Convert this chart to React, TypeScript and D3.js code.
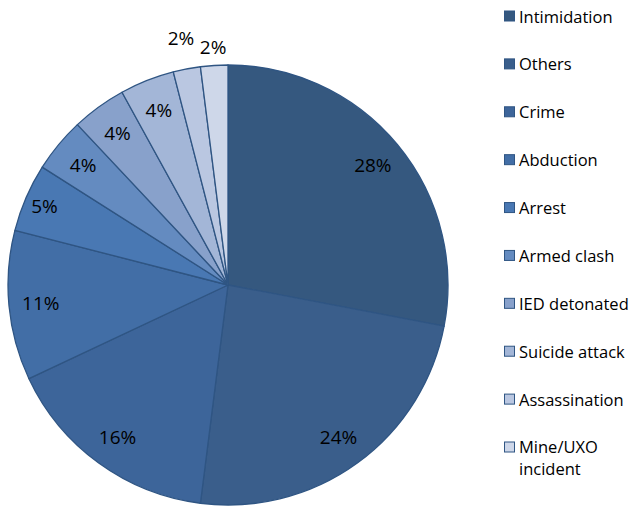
import React, { useEffect, useRef } from "react";
import * as d3 from "d3";

// categories, in drawing order (clockwise from 12 o'clock)
const categories = [
  "Intimidation",
  "Others",
  "Crime",
  "Abduction",
  "Arrest",
  "Armed clash",
  "IED detonated",
  "Suicide attack",
  "Assassination",
  "Mine/UXO incident",
];
const shares = [28, 24, 16, 11, 5, 4, 4, 4, 2, 2];
const colors = [
  "#35587f",
  "#3a5e8b",
  "#3d659a",
  "#426ea6",
  "#4978b3",
  "#648bc0",
  "#88a1cb",
  "#a3b6d7",
  "#bac7e1",
  "#ced7e9",
];

const W = 637;
const H = 506;

export default function App() {
  const ref = useRef<SVGSVGElement>(null);

  useEffect(() => {
    const svg = d3.select(ref.current);
    svg.selectAll("*").remove();

    const cx = 228,
      cy = 285,
      r = 220;
    const data = categories.map((c, i) => ({ cat: c, v: shares[i], col: colors[i] }));

    const pie = d3
      .pie<any>()
      .sort(null)
      .value((d) => d.v);
    const arcs = pie(data);
    const arc = d3.arc<any>().innerRadius(0).outerRadius(r);

    const g = svg.append("g").attr("transform", `translate(${cx},${cy})`);

    g.selectAll("path")
      .data(arcs)
      .join("path")
      .attr("d", arc)
      .attr("fill", (d) => d.data.col)
      .attr("stroke", "#2f5583")
      .attr("stroke-width", 1.3)
      .attr("stroke-linejoin", "round");

    // percentage labels: inside for big slices, outside (staggered) for the tiny ones
    g.selectAll("text.lbl")
      .data(arcs)
      .join("text")
      .attr("class", "lbl")
      .attr("transform", (d) => {
        const a = (d.startAngle + d.endAngle) / 2;
        let rr = 188;
        if (d.data.v === 5) rr = 200;
        if (d.data.v <= 2) rr = d.index === 8 ? 251 : 238;
        return `translate(${Math.sin(a) * rr},${-Math.cos(a) * rr})`;
      })
      .attr("text-anchor", "middle")
      .attr("dominant-baseline", "central")
      .attr("font-family", "'Open Sans', sans-serif")
      .attr("font-size", 19)
      .attr("fill", "#000")
      .text((d) => `${d.data.v}%`);

    // legend
    const leg = svg.append("g").attr("transform", "translate(504,0)");
    const y = d3
      .scalePoint<string>()
      .domain(categories)
      .range([16, 447]);

    const item = leg
      .selectAll("g.item")
      .data(data)
      .join("g")
      .attr("class", "item")
      .attr("transform", (d) => `translate(0,${y(d.cat)})`);

    item
      .append("rect")
      .attr("x", 0.5)
      .attr("y", -5)
      .attr("width", 10)
      .attr("height", 10)
      .attr("fill", (d) => d.col)
      .attr("stroke", "#2f5583")
      .attr("stroke-width", 1);

    item
      .append("text")
      .attr("x", 15)
      .attr("dominant-baseline", "central")
      .attr("font-family", "'Open Sans', sans-serif")
      .attr("font-size", 16.5)
      .attr("fill", "#000")
      .each(function (d) {
        const t = d3.select(this);
        if (d.cat === "Mine/UXO incident") {
          t.append("tspan").attr("x", 15).attr("dy", -1).text("Mine/UXO");
          t.append("tspan").attr("x", 15).attr("dy", 22).text("incident");
        } else {
          t.text(d.cat);
        }
      });
  }, []);

  return (
    <svg
      ref={ref}
      width={W}
      height={H}
      style={{ position: "absolute", left: 0, top: 0, background: "#fff" }}
    />
  );
}
